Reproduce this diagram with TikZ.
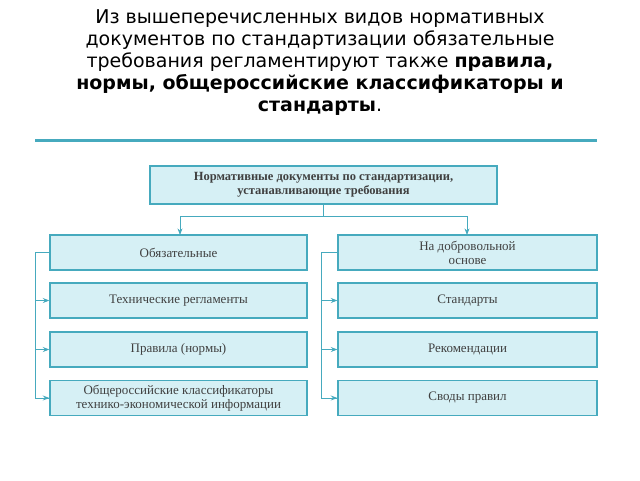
\documentclass[tikz,border=0pt]{standalone}
\usepackage{fontspec}
\setmainfont{Liberation Serif}
\newfontfamily\titlefont{DejaVu Sans}
\usetikzlibrary{arrows.meta, positioning}
\definecolor{boxfill}{RGB}{214,240,245}
\definecolor{boxline}{RGB}{70,170,190}
\begin{document}
\begin{tikzpicture}[
    x=1pt, y=-1pt,
    every node/.style={font=\fontsize{13}{14}\selectfont, text=black!75},
    doc/.style={rectangle, draw=boxline, fill=boxfill, line width=1.2pt, align=center, minimum height=35pt, inner sep=1pt},
    line/.style={-Stealth, draw=boxline, line width=0.8pt}
]
\useasboundingbox (0,0) rectangle (640,480);

% Title
\node[align=center, text=black, font=\titlefont\fontsize{19}{22}\selectfont] (title) at (320,63)
  {Из вышеперечисленных видов нормативных\\документов по стандартизации обязательные\\требования регламентируют также \textbf{правила,}\\\textbf{нормы, общероссийские классификаторы и}\\\textbf{стандарты}.};
\draw[boxline, line width=3pt] (35,140) -- (597,140);

% Top box
\node[doc, minimum width=347pt, minimum height=38pt, font=\bfseries\fontsize{12.5}{14}\selectfont] (top) at (323.5,185)
  {Нормативные документы по стандартизации,\\устанавливающие требования};

% Left column
\node[doc, minimum width=257pt] (mand) at (178.5,252.5) {Обязательные};
\node[doc, minimum width=257pt] (reg) at (178.5,300.5) {Технические регламенты};
\node[doc, minimum width=257pt] (rules) at (178.5,349.5) {Правила (нормы)};
\node[doc, minimum width=257pt] (class) at (178.5,398) {Общероссийские классификаторы\\технико-экономической информации};

% Right column
\node[doc, minimum width=259pt] (vol) at (467.5,252.5) {На добровольной\\основе};
\node[doc, minimum width=259pt] (std) at (467.5,300.5) {Стандарты};
\node[doc, minimum width=259pt] (rec) at (467.5,349.5) {Рекомендации};
\node[doc, minimum width=259pt] (code) at (467.5,398) {Своды правил};

% Connectors
\coordinate (split) at (323.5,216);
\draw[boxline, line width=0.8pt] (top.south) -- (split);
\draw[line] (split) -| (180,235);
\draw[line] (split) -| (467,235);
\draw[boxline, line width=0.8pt] (mand.west) -- ++(-14,0) coordinate (lb) |- (class.west);
\draw[line] (lb |- reg.west) -- (reg.west);
\draw[line] (lb |- rules.west) -- (rules.west);
\draw[line] (lb |- class.west) -- (class.west);
\draw[boxline, line width=0.8pt] (vol.west) -- ++(-16,0) coordinate (rb) |- (code.west);
\draw[line] (rb |- std.west) -- (std.west);
\draw[line] (rb |- rec.west) -- (rec.west);
\draw[line] (rb |- code.west) -- (code.west);
\end{tikzpicture}
\end{document}
